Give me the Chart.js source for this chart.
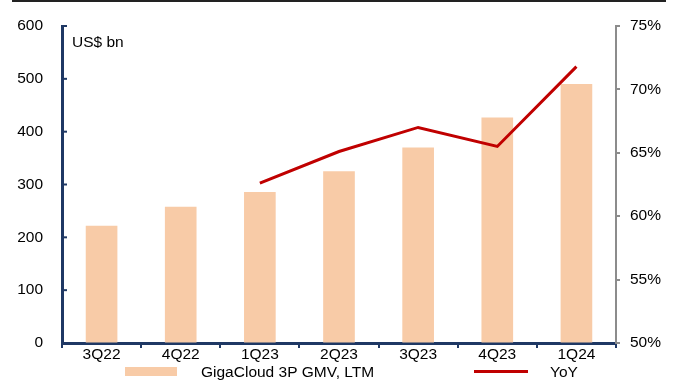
<!DOCTYPE html>
<html>
<head>
<meta charset="utf-8">
<title>GigaCloud 3P GMV</title>
<script src="https://cdn.jsdelivr.net/npm/chart.js@4"></script>
<style>
    body { margin: 0; background: #fff; }
    #wrap { width: 680px; height: 385px; position: relative; }
</style>
</head>
<body>
<div id="wrap"><canvas id="myChart"></canvas></div>
<script>
'use strict';
// quarters, GMV (US$ bn, LTM) and YoY growth (%)
const quarters = ['3Q22', '4Q22', '1Q23', '2Q23', '3Q23', '4Q23', '1Q24'];
const gmv = [222, 258, 286, 325, 370, 427, 490];
const yoy = [null, null, 62.6, 65.1, 67.0, 65.5, 71.8];
const leftTicks = [0, 100, 200, 300, 400, 500, 600];
const rightTicks = [50, 55, 60, 65, 70, 75];

const font = '"Liberation Sans", Arial, sans-serif';
const navy = '#1f3864';
const grey = '#8c8c8c';
const peach = '#f8cba7';
const red = '#c00000';

Chart.defaults.font.family = font;
Chart.defaults.font.size = 15.5;
Chart.defaults.color = '#000';

//extra bits: top rule, unit label, inward ticks, legend
const decor = {
    id: 'decor',
    afterDraw(chart) {
        const ctx = chart.ctx;
        const area = chart.chartArea;
        const y = chart.scales.y;
        ctx.save();
        ctx.strokeStyle = '#222';
        ctx.lineWidth = 2;
        ctx.beginPath();
        ctx.moveTo(12, 1);
        ctx.lineTo(666, 1);
        ctx.stroke();

        //left axis ticks point into the plot
        ctx.strokeStyle = navy;
        ctx.lineWidth = 2;
        y.ticks.forEach((t) => {
            const py = y.getPixelForValue(t.value);
            ctx.beginPath();
            ctx.moveTo(area.left, py);
            ctx.lineTo(area.left + 5, py);
            ctx.stroke();
        });

        ctx.fillStyle = '#000';
        ctx.font = '15.5px ' + font;
        ctx.textBaseline = 'alphabetic';
        ctx.fillText('US$ bn', area.left + 10, 47);

        //legend
        ctx.fillStyle = peach;
        ctx.fillRect(125, 367, 52, 9);
        ctx.fillStyle = '#000';
        ctx.fillText('GigaCloud 3P GMV, LTM', 201, 377);
        ctx.strokeStyle = red;
        ctx.lineWidth = 3;
        ctx.beginPath();
        ctx.moveTo(474, 371.5);
        ctx.lineTo(528, 371.5);
        ctx.stroke();
        ctx.fillText('YoY', 550, 377);
        ctx.restore();
    },
};

const data = {
    labels: quarters,
    datasets: [
        {
            type: 'line',
            label: 'YoY',
            data: yoy,
            yAxisID: 'y1',
            borderColor: red,
            borderWidth: 3,
            pointRadius: 0,
            tension: 0,
            order: 0,
        },
        {
            type: 'bar',
            label: 'GigaCloud 3P GMV, LTM',
            data: gmv,
            yAxisID: 'y',
            backgroundColor: peach,
            barPercentage: 0.4,
            categoryPercentage: 1,
            order: 1,
        },
    ],
};

// fixed sizes for the axes so the plot box sits where it should
const fitY = (w) => (s) => {
    s.width = w;
    s.paddingTop = 0;
    s.paddingBottom = 0;
};

const config = {
    data: data,
    options: {
        responsive: true,
        maintainAspectRatio: false,
        animation: false,
        layout: { padding: { top: 26, left: 0, right: 0, bottom: 0 } },
        scales: {
            x: {
                offset: true,
                grid: {
                    offset: true,
                    drawOnChartArea: false,
                    drawTicks: true,
                    tickLength: 5,
                    color: navy,
                    lineWidth: 2,
                },
                border: { color: navy, width: 3 },
                ticks: { padding: -3, maxRotation: 0 },
                afterFit: (s) => { s.height = 42; },
            },
            y: {
                position: 'left',
                min: leftTicks[0],
                max: leftTicks[leftTicks.length - 1],
                afterBuildTicks: (s) => { s.ticks = leftTicks.map((v) => ({ value: v })); },
                grid: { drawOnChartArea: false, drawTicks: false },
                border: { color: navy, width: 3 },
                ticks: { padding: 19 },
                afterFit: fitY(62),
            },
            y1: {
                position: 'right',
                min: rightTicks[0],
                max: rightTicks[rightTicks.length - 1],
                afterBuildTicks: (s) => { s.ticks = rightTicks.map((v) => ({ value: v })); },
                grid: {
                    drawOnChartArea: false,
                    drawTicks: true,
                    tickLength: 4,
                    color: grey,
                    lineWidth: 2,
                },
                border: { color: grey, width: 2 },
                ticks: {
                    padding: 10,
                    callback: (v) => v + '%',
                },
                afterFit: fitY(64),
            },
        },
        plugins: {
            legend: { display: false },
            tooltip: { enabled: false },
        },
    },
    plugins: [decor],
};

const myChart = new Chart(document.getElementById('myChart'), config);
</script>
</body>
</html>
